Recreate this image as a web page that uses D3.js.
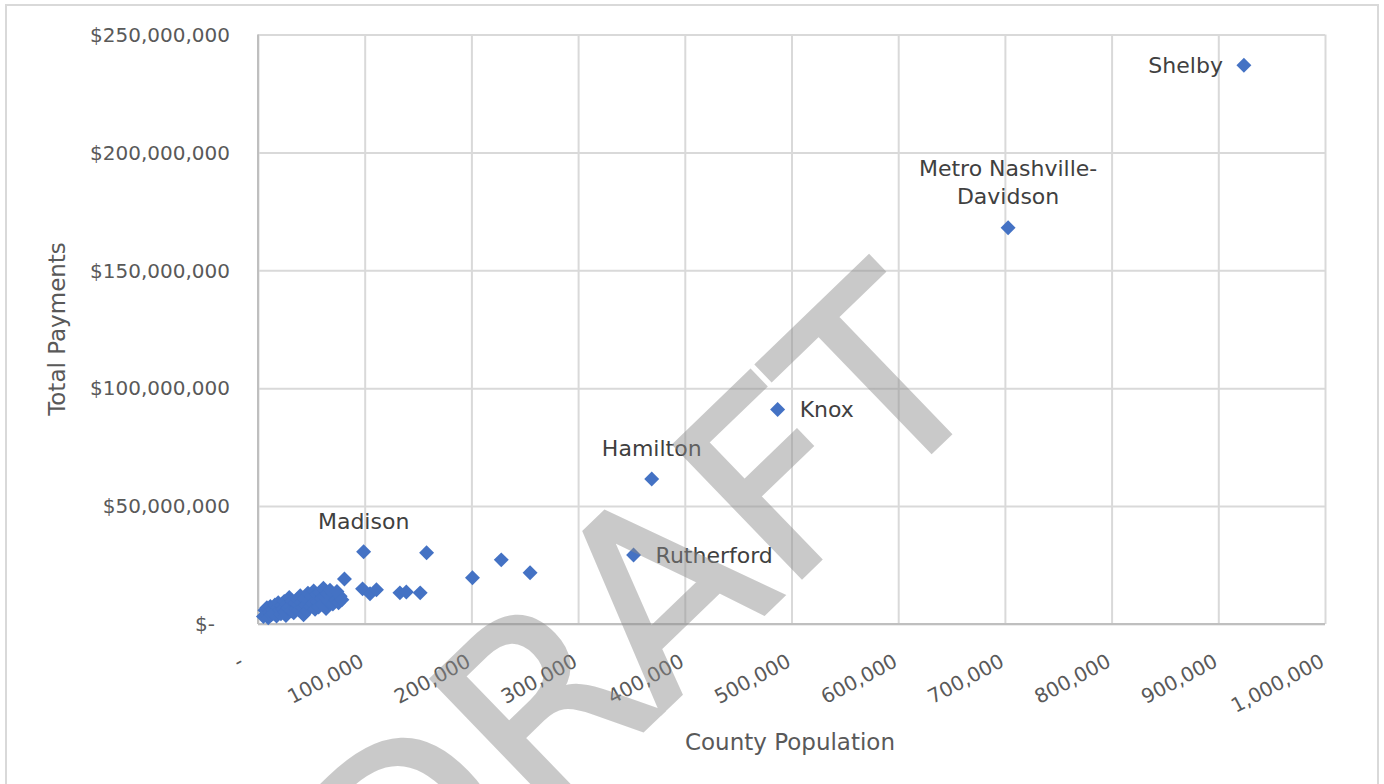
<!DOCTYPE html>
<html>
<head>
<meta charset="utf-8">
<script src="https://cdn.jsdelivr.net/npm/d3@7"></script>
<style>
  html, body { margin: 0; padding: 0; background: #fff; }
  svg { display: block; font-family: "DejaVu Sans", sans-serif; }
</style>
</head>
<body>
<svg id="chart" width="1384" height="784"></svg>
<script>
// ---------- DATA ----------
const labeledNames = ["Shelby", "Metro Nashville-Davidson", "Knox", "Hamilton", "Rutherford", "Madison"];
const labeledPop   = [924000, 703000, 487000, 369000, 352000, 99000];
const labeledPay   = [237000000, 168000000, 91000000, 61500000, 29300000, 30600000];

// unlabeled counties
const otherPop = [
  5100, 6500, 7800, 8300, 9600, 10900, 11600, 12500, 13800, 14200,
  15900, 16700, 17400, 18100, 19000, 20300, 21500, 22000, 23400, 24600,
  25300, 26200, 27000, 28100, 29300, 30600, 31200, 32000, 33500, 34800,
  35500, 36900, 37700, 38500, 39600, 40400, 41800, 42700, 43500, 44900,
  45600, 46800, 47500, 48900, 50100, 51400, 52200, 53500, 54900, 55700,
  56800, 58000, 59200, 60500, 61300, 62700, 63800, 65000, 66300, 67500,
  68900, 70200, 71400, 72800, 74000, 75500, 77000, 78600, 81000,
  98000, 105000, 111000, 133000, 139000, 152000, 158000, 201000, 228000, 255000
];
const otherPay = [
  3200000, 5800000, 4100000, 6900000, 2600000, 5000000, 7400000, 3900000, 6200000, 4600000,
  8100000, 5400000, 3400000, 7000000, 9000000, 5900000, 4300000, 7700000, 6400000, 9600000,
  5100000, 3600000, 8400000, 6800000, 11200000, 7300000, 5600000, 9800000, 4800000, 8900000,
  6500000, 10500000, 7900000, 5900000, 12000000, 9100000, 6900000, 3900000, 10900000, 8200000,
  5500000, 13100000, 9900000, 7400000, 11700000, 8700000, 14000000, 6300000, 12400000, 9600000,
  7200000, 13400000, 10800000, 8300000, 15200000, 11500000, 6600000, 12900000, 9400000, 14300000,
  11000000, 8500000, 12600000, 10200000, 13800000, 9000000, 11800000, 10300000, 19100000,
  14900000, 12800000, 14500000, 13200000, 13600000, 13200000, 30200000, 19600000, 27200000, 21700000
];

const xTicks = [0, 100000, 200000, 300000, 400000, 500000, 600000, 700000, 800000, 900000, 1000000];
const yTicks = [0, 50000000, 100000000, 150000000, 200000000, 250000000];

const xTitle = "County Population";
const yTitle = "Total Payments";
const watermark = "DRAFT";

// ---------- LAYOUT ----------
const svg = d3.select("#chart");
const plot = { left: 258, right: 1325, top: 34.5, bottom: 624 };

const x = d3.scaleLinear().domain([0, 1000000]).range([plot.left, plot.right]);
const y = d3.scaleLinear().domain([0, 250000000]).range([plot.bottom, plot.top]);

// chart border
svg.append("rect")
  .attr("x", 6).attr("y", 5).attr("width", 1372).attr("height", 800)
  .attr("fill", "#fff").attr("stroke", "#d9d9d9").attr("stroke-width", 2);

const numFmt = d3.format(",");

// gridlines
const gx = svg.append("g").attr("transform", `translate(0,${plot.bottom})`)
  .call(d3.axisBottom(x).tickValues(xTicks).tickSize(-(plot.bottom - plot.top)).tickFormat(""));
gx.select(".domain").remove();
gx.selectAll(".tick line").attr("stroke", "#d9d9d9").attr("stroke-width", 2);

const gy = svg.append("g").attr("transform", `translate(${plot.left},0)`)
  .call(d3.axisLeft(y).tickValues(yTicks).tickSize(-(plot.right - plot.left)).tickFormat(""));
gy.select(".domain").remove();
gy.selectAll(".tick line").attr("stroke", "#d9d9d9").attr("stroke-width", 2);

// axis lines
svg.append("line").attr("x1", plot.left).attr("x2", plot.right)
  .attr("y1", plot.bottom).attr("y2", plot.bottom)
  .attr("stroke", "#bfbfbf").attr("stroke-width", 2);
svg.append("line").attr("x1", plot.left).attr("x2", plot.left)
  .attr("y1", plot.top).attr("y2", plot.bottom)
  .attr("stroke", "#bfbfbf").attr("stroke-width", 2);

// y tick labels
svg.append("g").selectAll("text").data(yTicks).join("text")
  .attr("x", d => d === 0 ? 215 : 230)
  .attr("y", d => y(d))
  .attr("dy", "0.36em")
  .attr("text-anchor", "end")
  .attr("font-size", 20)
  .attr("fill", "#595959")
  .text(d => d === 0 ? "$-" : "$" + numFmt(d));

// x tick labels (rotated)
svg.append("g").selectAll("text").data(xTicks).join("text")
  .attr("transform", d => `translate(${x(d) - (d === 0 ? 20 : 6)},${plot.bottom + 29}) rotate(-28)`)
  .attr("dy", "0.71em")
  .attr("text-anchor", "end")
  .attr("font-size", 20)
  .attr("fill", "#595959")
  .text(d => d === 0 ? "-" : numFmt(d));

// axis titles
svg.append("text")
  .attr("x", 790).attr("y", 742).attr("dy", "0.36em")
  .attr("text-anchor", "middle").attr("font-size", 23).attr("fill", "#595959")
  .text(xTitle);
svg.append("text")
  .attr("transform", `translate(57,329) rotate(-90)`)
  .attr("dy", "0.36em")
  .attr("text-anchor", "middle").attr("font-size", 23).attr("fill", "#595959")
  .text(yTitle);

// points
const diamond = d3.symbol(d3.symbolSquare, 112);
const allPoints = otherPop.map((p, i) => ({ pop: p, pay: otherPay[i] }))
  .concat(labeledPop.map((p, i) => ({ pop: p, pay: labeledPay[i] })));

svg.append("g").selectAll("path").data(allPoints).join("path")
  .attr("d", diamond)
  .attr("transform", d => `translate(${x(d.pop)},${y(d.pay)}) rotate(45)`)
  .attr("fill", "#4472C4");

// data labels
const labelPlacement = ["left", "above2", "right", "above", "right", "above"];
const lg = svg.append("g").attr("font-size", 22).attr("fill", "#404040");
labeledNames.forEach((name, i) => {
  const px = x(labeledPop[i]), py = y(labeledPay[i]);
  const pl = labelPlacement[i];
  if (pl === "left") {
    lg.append("text").attr("x", px - 21).attr("y", py).attr("dy", "0.36em")
      .attr("text-anchor", "end").text(name);
  } else if (pl === "right") {
    lg.append("text").attr("x", px + 22).attr("y", py).attr("dy", "0.36em")
      .attr("text-anchor", "start").text(name);
  } else if (pl === "above") {
    lg.append("text").attr("x", px).attr("y", py - 31).attr("dy", "0.36em")
      .attr("text-anchor", "middle").text(name);
  } else {
    const parts = name.split("-");
    const t = lg.append("text").attr("text-anchor", "middle");
    t.append("tspan").attr("x", px).attr("y", py - 60).attr("dy", "0.36em").text(parts[0] + "-");
    t.append("tspan").attr("x", px).attr("y", py - 32).attr("dy", "0.36em").text(parts[1]);
  }
});

// watermark
svg.append("text")
  .attr("transform", "translate(402,963) rotate(-44)")
  .attr("font-size", 252)
  .attr("fill", "#8a8a8a")
  .attr("stroke", "#8a8a8a")
  .attr("stroke-width", 4)
  .attr("opacity", 0.45)
  .text(watermark);
</script>
</body>
</html>
